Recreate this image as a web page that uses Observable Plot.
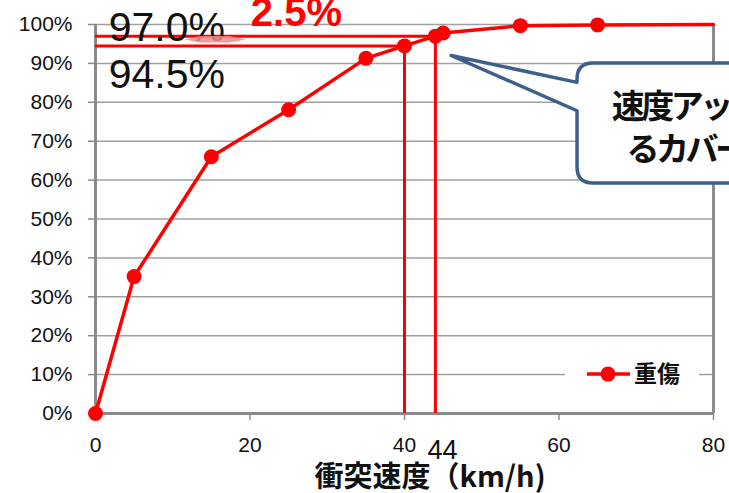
<!DOCTYPE html>
<html>
<head>
<meta charset="utf-8">
<script src="https://cdn.jsdelivr.net/npm/d3@7"></script>
<script src="https://cdn.jsdelivr.net/npm/@observablehq/plot@0.6"></script>
<style>
  html, body { margin: 0; padding: 0; background: #fff; overflow: hidden; }
  #chart svg { display: block; }
</style>
</head>
<body>
<div id="chart"></div>
<script>
// ---- data ----
const speeds = [0, 5, 15, 25, 35, 40, 44, 45, 55, 65];          // 衝突速度 (km/h)
const severe = [0, 35.2, 66.0, 78.1, 91.3, 94.5, 97.0, 97.8, 99.7, 99.9]; // 重傷 cumulative %
const tailSpeeds = [65, 80];
const tailValues = [99.9, 100];
const refSpeeds = [40, 44];
const refValues = [94.5, 97.0];
const yTicks = [0, 10, 20, 30, 40, 50, 60, 70, 80, 90, 100];
const xTicks = [0, 20, 40, 60, 80];
const seriesName = "重傷";
const xTitle = "衝突速度（km/h)";
const calloutLines = ["速度アップによ", "るカバー率向上"];
const diffLabel = "2.5%";

const pts = speeds.map((s, i) => ({x: s, y: severe[i]}));
const tail = tailSpeeds.map((s, i) => ({x: s, y: tailValues[i]}));
const refs = refSpeeds.map((s, i) => ({x: s, y: refValues[i]}));

const RED = "#ff0000";
const GRID = "#a0a0a0";
const AXIS = "#8a8a8a";
const NUMFONT = "'Liberation Sans', Arial, sans-serif";
const JPFONT = "'Noto Sans CJK JP', sans-serif";

const plot = Plot.plot({
  width: 729,
  height: 493,
  marginLeft: 95,
  marginRight: 16,
  marginTop: 24,
  marginBottom: 80,
  style: {background: "#fff", overflow: "hidden", fontFamily: NUMFONT},
  x: {domain: [0, 80]},
  y: {domain: [0, 100]},
  marks: [
    Plot.gridY(yTicks, {stroke: GRID, strokeOpacity: 1, strokeWidth: 1.5}),
    Plot.ruleX([80], {stroke: AXIS, strokeWidth: 3}),
    Plot.axisY(yTicks, {
      tickFormat: d => d + "%", tickSize: 7, tickPadding: 16, fontSize: 21,
      stroke: AXIS, strokeWidth: 1.5, fill: "#111", label: null
    }),
    Plot.axisX(xTicks, {
      tickSize: 7, tickPadding: 17, fontSize: 21,
      stroke: AXIS, strokeWidth: 1.5, fill: "#111", label: null
    }),
    Plot.ruleX([0], {stroke: AXIS, strokeWidth: 3}),
    Plot.ruleY([0], {stroke: AXIS, strokeWidth: 3}),
    // reference lines
    Plot.ruleX(refs, {x: "x", y1: 0, y2: "y", stroke: RED, strokeWidth: 3}),
    Plot.ruleY(refs, {y: "y", x1: 0, x2: "x", stroke: RED, strokeWidth: 3}),
    // series
    Plot.line(tail, {x: "x", y: "y", stroke: RED, strokeWidth: 3.5}),
    Plot.line(pts, {x: "x", y: "y", stroke: RED, strokeWidth: 3.5}),
    Plot.dot(pts, {x: "x", y: "y", r: 7.5, fill: RED, stroke: "none"}),
    // annotation texts
    Plot.text([refs[1]], {x: 1.7, y: 99.1, text: d => d.y.toFixed(1) + "%", textAnchor: "start", lineAnchor: "middle", fontSize: 41, fill: "#111"}),
    Plot.text([refs[0]], {x: 1.7, y: 87.0, text: d => d.y.toFixed(1) + "%", textAnchor: "start", lineAnchor: "middle", fontSize: 41, fill: "#111"}),
    Plot.text([diffLabel], {x: 20.1, y: 103.0, text: d => d, textAnchor: "start", lineAnchor: "middle", fontSize: 40, fontWeight: "bold", fill: RED}),
    Plot.text([refs[1]], {x: "x", y: -9.6, text: d => String(d.x), textAnchor: "middle", lineAnchor: "middle", dx: 7, fontSize: 27, fill: "#111"}),
    Plot.text([xTitle], {x: 43.3, y: -16.6, text: d => d, textAnchor: "middle", lineAnchor: "middle", fontSize: 29, fontWeight: "bold", fontFamily: JPFONT, fill: "#111"}),
    // pink double arrow between the two reference levels
    (index, scales) => {
      const x = scales.x, y = scales.y;
      const g = d3.create("svg:g");
      const x0 = x(11.6), x1 = x(19.5), ym = y(96.0);
      g.append("path")
        .attr("d", `M${x0},${ym} L${x(13.6)},${ym - 3.5} L${x(17.4)},${ym - 3.5} L${x1},${ym} L${x(17.4)},${ym + 3} L${x(13.6)},${ym + 3} Z`)
        .attr("fill", "#f08a8a").attr("opacity", 0.85);
      return g.node();
    },
    // callout
    (index, scales) => {
      const x = scales.x, y = scales.y;
      const g = d3.create("svg:g");
      const tipX = x(46.1), tipY = y(91.9);
      const L = x(62.4), T = y(90.0), B = y(59.1), R = x(95), r = 16;
      const p1 = y(85.0), p2 = y(77.7);
      const d = `M${L},${p1} L${tipX},${tipY} L${L},${p2} L${L},${B - r} Q${L},${B} ${L + r},${B} L${R},${B} L${R},${T} L${L + r},${T} Q${L},${T} ${L},${T + r} Z`;
      g.append("path").attr("d", d).attr("fill", "#fff").attr("stroke", "#3c5f8c").attr("stroke-width", 3.5).attr("stroke-linejoin", "round");
      g.append("text").attr("x", x(66.9)).attr("y", y(75.8)).attr("text-anchor", "start").attr("letter-spacing", "-3.5px").attr("font-family", JPFONT).attr("font-weight", "bold").attr("font-size", 33).attr("fill", "#111").text(calloutLines[0]);
      g.append("text").attr("x", x(68.8)).attr("y", y(64.7)).attr("text-anchor", "start").attr("letter-spacing", "-3.5px").attr("font-family", JPFONT).attr("font-weight", "bold").attr("font-size", 33).attr("fill", "#111").text(calloutLines[1]);
      return g.node();
    },
    // legend
    (index, scales) => {
      const y = scales.y;
      const g = d3.create("svg:g");
      const cy = y(10);
      g.append("rect").attr("x", 565).attr("y", cy - 13).attr("width", 134).attr("height", 26).attr("fill", "#fff");
      g.append("line").attr("x1", 587).attr("x2", 630).attr("y1", cy).attr("y2", cy).attr("stroke", RED).attr("stroke-width", 3.5);
      g.append("circle").attr("cx", 608).attr("cy", cy).attr("r", 7.5).attr("fill", RED);
      g.append("text").attr("x", 634).attr("y", cy).attr("dy", "0.36em").attr("text-anchor", "start").attr("font-family", JPFONT).attr("font-weight", "bold").attr("font-size", 23).attr("fill", "#111").text(seriesName);
      return g.node();
    }
  ]
});
document.getElementById("chart").appendChild(plot);
</script>
</body>
</html>
